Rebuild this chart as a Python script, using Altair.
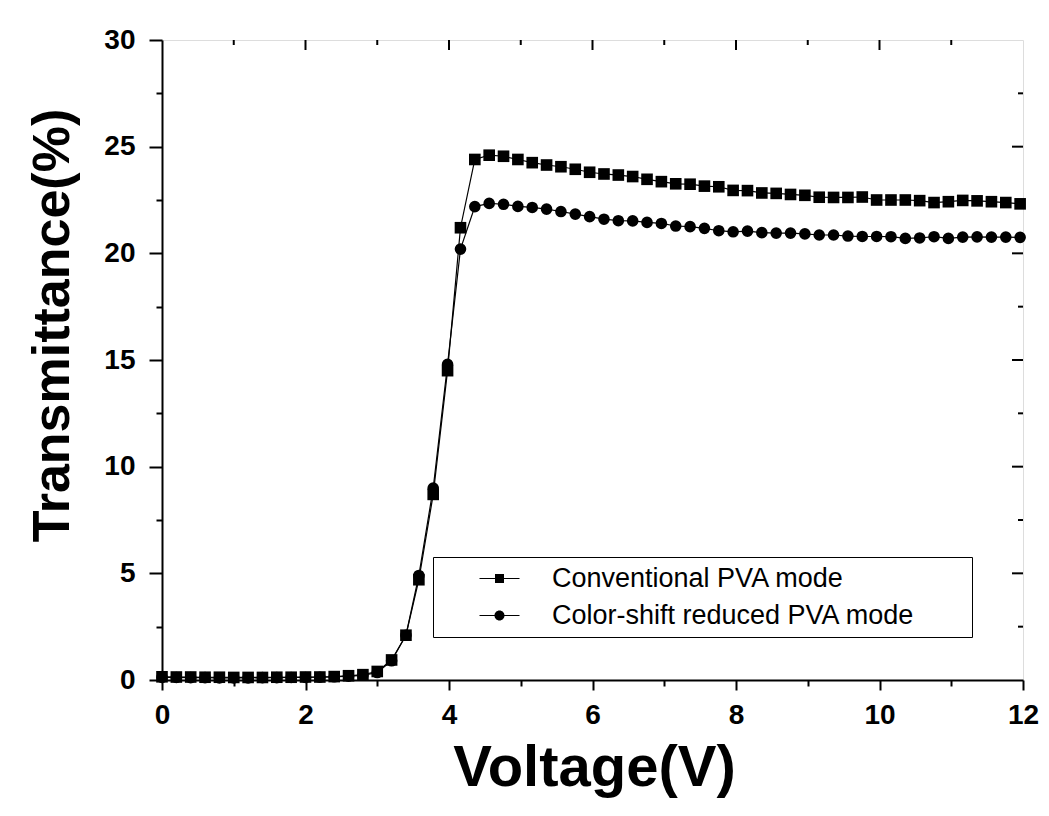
import altair as alt
import pandas as pd

voltage = [0.0, 0.2, 0.4, 0.6, 0.8, 1.0, 1.2, 1.4, 1.6, 1.8, 2.0, 2.2, 2.4, 2.6, 2.8,
           3.0, 3.2, 3.4, 3.58, 3.78, 3.98, 4.16,
           4.36, 4.56, 4.76, 4.96, 5.16, 5.36, 5.56, 5.76, 5.96, 6.16,
           6.36, 6.56, 6.76, 6.96, 7.16, 7.36, 7.56, 7.76, 7.96, 8.16,
           8.36, 8.56, 8.76, 8.96, 9.16, 9.36, 9.56, 9.76, 9.96, 10.16,
           10.36, 10.56, 10.76, 10.96, 11.16, 11.36, 11.56, 11.76, 11.96]

conventional = [0.15, 0.14, 0.14, 0.13, 0.13, 0.12, 0.12, 0.12, 0.13, 0.13, 0.14, 0.14, 0.16, 0.2, 0.25,
                0.4, 0.94, 2.1, 4.7, 8.7, 14.5, 21.2,
                24.4, 24.6, 24.55, 24.4, 24.25, 24.14, 24.06, 23.94, 23.8, 23.72,
                23.67, 23.6, 23.47, 23.36, 23.26, 23.24, 23.15, 23.12, 22.95, 22.94,
                22.83, 22.81, 22.76, 22.72, 22.63, 22.62, 22.62, 22.64, 22.5, 22.5,
                22.5, 22.47, 22.38, 22.42, 22.48, 22.46, 22.42, 22.38, 22.32]

reduced = [0.12, 0.12, 0.11, 0.11, 0.1, 0.1, 0.1, 0.11, 0.11, 0.12, 0.12, 0.13, 0.15, 0.18, 0.22,
           0.35, 0.9, 2.1, 4.9, 9.0, 14.8, 20.2,
           22.19, 22.34, 22.3, 22.2, 22.15, 22.07, 21.96, 21.84, 21.72, 21.6,
           21.53, 21.52, 21.45, 21.4, 21.28, 21.25, 21.17, 21.06, 21.01, 21.04,
           20.97, 20.95, 20.95, 20.91, 20.86, 20.86, 20.81, 20.79, 20.79, 20.78,
           20.7, 20.72, 20.78, 20.7, 20.76, 20.77, 20.76, 20.76, 20.75]

series_names = ["Conventional PVA mode", "Color-shift reduced PVA mode"]

x_major = [0, 2, 4, 6, 8, 10, 12]
x_minor = [1, 3, 5, 7, 9, 11]
y_major = [0, 5, 10, 15, 20, 25, 30]
y_minor = [2.5, 7.5, 12.5, 17.5, 22.5, 27.5]

df = pd.DataFrame({
    "Voltage": voltage + voltage,
    "T": conventional + reduced,
    "Series": [series_names[0]] * len(voltage) + [series_names[1]] * len(voltage),
})

FONT = "Liberation Sans"
W, H = 861, 640
xscale = alt.Scale(domain=[0, 12], nice=False, zero=False)
yscale = alt.Scale(domain=[0, 30], nice=False)

x_axis = alt.Axis(
    values=sorted(x_major + x_minor),
    labelExpr="datum.value % 2 === 0 ? datum.label : ''",
    format="d",
    tickSize={"condition": {"test": "datum.value % 2 === 0", "value": 10}, "value": 6},
    tickColor="black", tickWidth=2,
    domainColor="black", domainWidth=2,
    labelFont=FONT, labelFontSize=28, labelFontWeight="bold", labelColor="black",
    labelPadding=11, labelFlush=False,
    grid=False,
    title="Voltage(V)", titleFont=FONT, titleFontSize=58, titleFontWeight="bold",
    titleColor="black", titleBaseline="alphabetic", titleY=105, titleX=432, titleAlign="center",
)

y_axis = alt.Axis(
    values=sorted(y_major + y_minor),
    labelExpr="datum.value % 5 === 0 ? datum.label : ''",
    format="d",
    tickSize={"condition": {"test": "datum.value % 5 === 0", "value": 13}, "value": 6},
    tickColor="black", tickWidth=2,
    domainColor="black", domainWidth=2,
    labelFont=FONT, labelFontSize=28, labelFontWeight="bold", labelColor="black",
    labelPadding=14, labelFlush=False,
    grid=False,
    title="Transmittance(%)", titleFont=FONT, titleFontSize=52, titleFontWeight="bold",
    titleColor="black", titleAngle=270, titleBaseline="alphabetic", titleAlign="center",
    titleX=-94, titleY=285,
)

base = alt.Chart(df)

lines = base.mark_line(color="black", strokeWidth=1.2).encode(
    x=alt.X("Voltage:Q", scale=xscale, axis=x_axis),
    y=alt.Y("T:Q", scale=yscale, axis=y_axis),
    detail="Series:N",
)

points = base.mark_point(filled=True, size=135, color="black", opacity=1).encode(
    x=alt.X("Voltage:Q", scale=xscale, axis=x_axis),
    y=alt.Y("T:Q", scale=yscale, axis=y_axis),
    shape=alt.Shape("Series:N", scale=alt.Scale(domain=series_names, range=["square", "circle"]), legend=None),
)

# legend glyphs: thin line through a marker (filled shapes only)
sq_path = "M-2,-0.06H2V0.06H-2Z M-0.45,-0.45H0.45V0.45H-0.45Z M46.1,0"
ci_path = "M-2,-0.06H2V0.06H-2Z M0.5,0A0.5,0.5,0,1,1,-0.5,0A0.5,0.5,0,1,1,0.5,0Z M46.1,0"

legend_layer = base.mark_point(filled=True, size=400, color="black", opacity=0).encode(
    x=alt.X("Voltage:Q", scale=xscale, axis=x_axis),
    y=alt.Y("T:Q", scale=yscale, axis=y_axis),
    shape=alt.Shape(
        "Series:N",
        scale=alt.Scale(domain=series_names, range=[sq_path, ci_path]),
        legend=alt.Legend(
            title=None, orient="none", legendX=271, legendY=517, direction="vertical",
            fillColor="white", strokeColor="black", padding=8,
            symbolSize=400, symbolFillColor="black", symbolOpacity=1, symbolOffset=45,
            labelOffset=39, labelFont=FONT, labelFontSize=27, labelColor="black",
            rowPadding=9, labelLimit=700,
        ),
    ),
)

top_major = alt.Chart(pd.DataFrame({"v": x_major[1:-1]})).mark_rule(color="black", strokeWidth=2).encode(
    x=alt.X("v:Q", scale=xscale), y=alt.value(0), y2=alt.value(10))
top_minor = alt.Chart(pd.DataFrame({"v": x_minor})).mark_rule(color="black", strokeWidth=2).encode(
    x=alt.X("v:Q", scale=xscale), y=alt.value(0), y2=alt.value(5))
right_major = alt.Chart(pd.DataFrame({"w": y_major[1:-1]})).mark_rule(color="black", strokeWidth=2).encode(
    y=alt.Y("w:Q", scale=yscale), x=alt.value(W), x2=alt.value(W - 11))
right_minor = alt.Chart(pd.DataFrame({"w": y_minor})).mark_rule(color="black", strokeWidth=2).encode(
    y=alt.Y("w:Q", scale=yscale), x=alt.value(W), x2=alt.value(W - 5))

chart = alt.layer(
    lines, points, legend_layer, top_major, top_minor, right_major, right_minor
).resolve_scale(shape="independent").properties(
    width=W, height=H,
    autosize=alt.AutoSizeParams(type="none"),
    padding={"left": 154, "top": 32, "right": 18, "bottom": 128},
).configure_view(stroke="black", strokeWidth=2).configure_legend(strokeWidth=2).configure(background="white")

chart.save("out.html", embed_options={"renderer": "svg", "actions": False})
